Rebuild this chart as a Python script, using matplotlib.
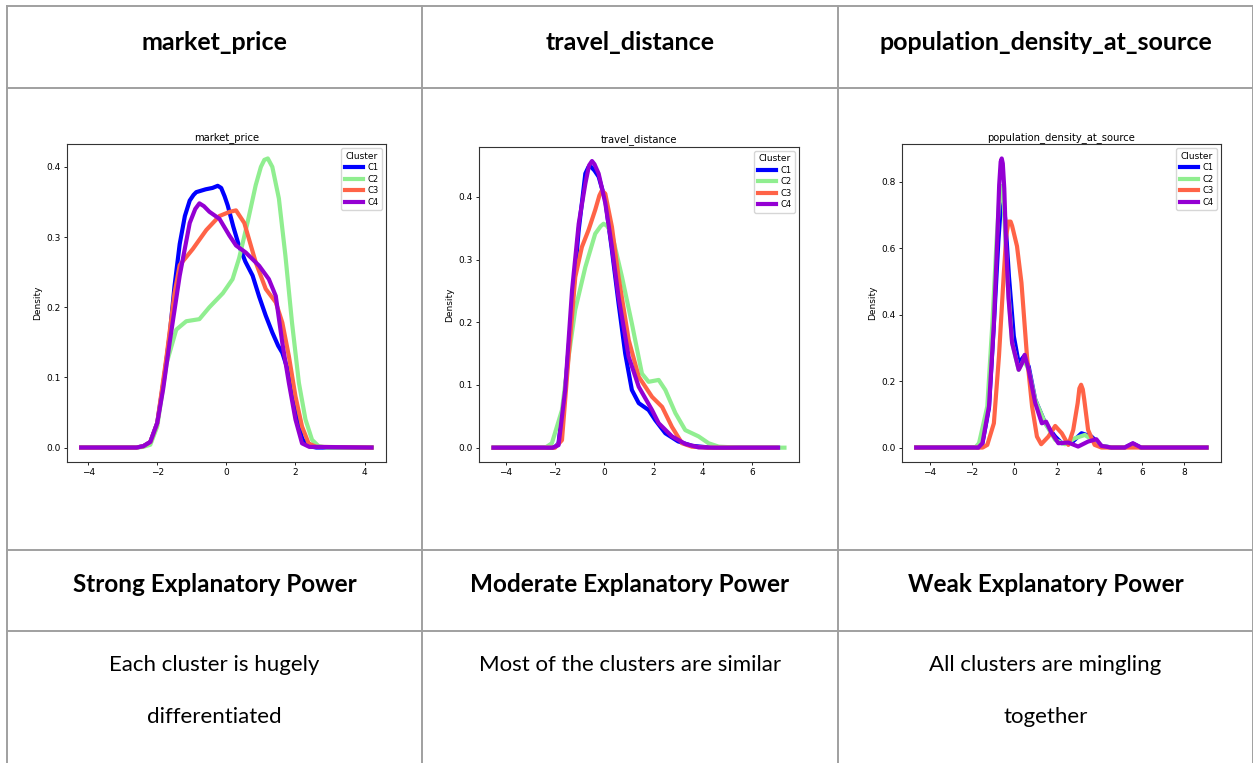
import matplotlib.pyplot as plt
from matplotlib.lines import Line2D

# ---- table text ----
headers = ['market_price', 'travel_distance', 'population_density_at_source']
powers = ['Strong Explanatory Power', 'Moderate Explanatory Power', 'Weak Explanatory Power']
notes = [['Each cluster is hugely', 'differentiated'],
         ['Most of the clusters are similar'],
         ['All clusters are mingling', 'together']]

clusters = ['C1', 'C2', 'C3', 'C4']
line_colors = ['blue', 'lightgreen', 'tomato', 'darkviolet']

# ---- KDE curves (x, density) ----
mp_x = {
    'C1': [-4.2, -2.6, -2.4, -2.2, -2.0, -1.8, -1.64, -1.5, -1.35, -1.2, -1.06, -0.95, -0.87, -0.6, -0.4, -0.25, -0.15, -0.05, 0.04, 0.2, 0.35, 0.55, 0.76, 0.95, 1.14, 1.33, 1.5, 1.62, 1.81, 2.0, 2.2, 2.4, 2.6, 4.2],
    'C2': [-4.2, -2.6, -2.4, -2.2, -2.0, -1.73, -1.45, -1.16, -0.78, -0.49, -0.1, 0.18, 0.37, 0.61, 0.85, 1.0, 1.1, 1.2, 1.33, 1.52, 1.71, 1.9, 2.1, 2.29, 2.48, 2.67, 2.9, 4.2],
    'C3': [-4.2, -2.6, -2.4, -2.2, -2.0, -1.73, -1.5, -1.35, -0.97, -0.58, -0.2, 0.1, 0.28, 0.52, 0.85, 1.14, 1.43, 1.62, 1.81, 2.0, 2.19, 2.38, 2.6, 4.2],
    'C4': [-4.2, -2.6, -2.4, -2.2, -2.0, -1.83, -1.64, -1.35, -1.06, -0.9, -0.78, -0.65, -0.49, -0.2, 0.09, 0.28, 0.56, 0.95, 1.23, 1.43, 1.62, 1.81, 2.0, 2.19, 2.4, 4.2],
}
mp_y = {
    'C1': [0, 0, 0.002, 0.008, 0.035, 0.1, 0.16, 0.23, 0.29, 0.33, 0.352, 0.36, 0.364, 0.368, 0.37, 0.373, 0.37, 0.358, 0.345, 0.315, 0.29, 0.265, 0.245, 0.215, 0.188, 0.164, 0.145, 0.135, 0.106, 0.05, 0.012, 0.002, 0, 0],
    'C2': [0, 0, 0.001, 0.004, 0.03, 0.12, 0.168, 0.18, 0.183, 0.2, 0.22, 0.24, 0.27, 0.32, 0.374, 0.4, 0.41, 0.412, 0.40, 0.355, 0.273, 0.178, 0.092, 0.04, 0.011, 0.002, 0, 0],
    'C3': [0, 0, 0.002, 0.008, 0.035, 0.13, 0.22, 0.26, 0.283, 0.31, 0.33, 0.336, 0.338, 0.32, 0.264, 0.226, 0.207, 0.178, 0.13, 0.073, 0.03, 0.006, 0.001, 0],
    'C4': [0, 0, 0.002, 0.008, 0.035, 0.083, 0.15, 0.245, 0.32, 0.34, 0.348, 0.344, 0.336, 0.326, 0.302, 0.288, 0.278, 0.259, 0.24, 0.216, 0.149, 0.092, 0.04, 0.006, 0.001, 0],
}

td_x = {
    'C1': [-4.5, -2.1, -2.0, -1.86, -1.59, -1.31, -1.04, -0.77, -0.65, -0.57, -0.4, -0.23, 0.04, 0.31, 0.58, 0.85, 1.12, 1.4, 1.8, 2.07, 2.48, 3.0, 3.56, 4.2, 5.0, 7.06],
    'C2': [-4.5, -2.4, -2.13, -1.72, -1.45, -1.18, -0.77, -0.37, -0.15, -0.03, 0.1, 0.31, 0.72, 1.12, 1.53, 1.8, 2.21, 2.48, 2.89, 3.29, 3.83, 4.24, 4.65, 5.5, 7.32],
    'C3': [-4.5, -2.0, -1.72, -1.45, -1.18, -0.91, -0.64, -0.37, -0.2, -0.1, 0.04, 0.31, 0.58, 0.99, 1.4, 1.94, 2.35, 2.75, 3.16, 3.56, 4.2, 7.0],
    'C4': [-4.5, -2.1, -1.86, -1.59, -1.31, -1.04, -0.77, -0.62, -0.5, -0.4, -0.23, 0.04, 0.31, 0.58, 0.99, 1.4, 1.94, 2.21, 2.75, 3.29, 3.83, 4.5, 7.06],
}
td_y = {
    'C1': [0, 0, 0.001, 0.007, 0.092, 0.225, 0.347, 0.437, 0.447, 0.449, 0.442, 0.432, 0.395, 0.315, 0.23, 0.15, 0.092, 0.071, 0.06, 0.044, 0.023, 0.01, 0.003, 0.0005, 0, 0],
    'C2': [0, 0, 0.007, 0.06, 0.145, 0.22, 0.288, 0.341, 0.353, 0.357, 0.354, 0.341, 0.272, 0.198, 0.118, 0.105, 0.108, 0.092, 0.055, 0.028, 0.018, 0.007, 0.0016, 0, 0],
    'C3': [0, 0, 0.012, 0.145, 0.272, 0.32, 0.347, 0.379, 0.402, 0.41, 0.405, 0.352, 0.272, 0.172, 0.113, 0.081, 0.065, 0.033, 0.007, 0.0016, 0, 0],
    'C4': [0, 0, 0.004, 0.092, 0.251, 0.357, 0.421, 0.45, 0.457, 0.452, 0.437, 0.39, 0.32, 0.24, 0.145, 0.097, 0.06, 0.039, 0.018, 0.006, 0.0005, 0, 0],
}

pd_x = {
    'C1': [-4.63, -1.7, -1.51, -1.2, -0.97, -0.76, -0.64, -0.58, -0.5, -0.42, -0.26, -0.03, 0.2, 0.44, 0.67, 0.98, 1.45, 1.92, 2.23, 2.7, 3.16, 3.63, 4.1, 4.6, 5.2, 5.58, 5.95, 9.05],
    'C2': [-4.63, -1.85, -1.67, -1.28, -1.04, -0.84, -0.7, -0.62, -0.5, -0.34, -0.11, 0.2, 0.44, 0.67, 0.98, 1.45, 1.92, 2.38, 2.85, 3.32, 3.78, 4.1, 4.6, 5.2, 5.58, 5.95, 9.05],
    'C3': [-4.63, -1.5, -1.28, -0.97, -0.73, -0.5, -0.38, -0.28, -0.18, -0.11, 0.12, 0.33, 0.59, 0.83, 1.06, 1.26, 1.6, 1.92, 2.23, 2.54, 2.77, 2.98, 3.06, 3.14, 3.22, 3.29, 3.47, 3.78, 4.1, 9.05],
    'C4': [-4.63, -1.7, -1.51, -1.2, -0.97, -0.81, -0.72, -0.65, -0.6, -0.55, -0.48, -0.4, -0.28, -0.11, 0.2, 0.36, 0.48, 0.67, 0.98, 1.29, 1.49, 1.76, 2.07, 2.54, 3.0, 3.47, 3.86, 4.1, 4.56, 5.19, 5.58, 5.97, 9.05],
}
pd_y = {
    'C1': [0, 0, 0.013, 0.12, 0.37, 0.62, 0.73, 0.757, 0.73, 0.676, 0.515, 0.335, 0.254, 0.274, 0.244, 0.144, 0.073, 0.033, 0.013, 0.015, 0.043, 0.033, 0.005, 0, 0, 0.012, 0, 0],
    'C2': [0, 0, 0.013, 0.124, 0.375, 0.626, 0.76, 0.787, 0.727, 0.515, 0.315, 0.234, 0.264, 0.234, 0.144, 0.073, 0.023, 0.01, 0.028, 0.038, 0.018, 0.005, 0, 0, 0.01, 0, 0],
    'C3': [0, 0, 0.008, 0.073, 0.275, 0.526, 0.64, 0.68, 0.68, 0.667, 0.606, 0.496, 0.275, 0.124, 0.033, 0.01, 0.033, 0.065, 0.043, 0.008, 0.053, 0.134, 0.178, 0.189, 0.175, 0.144, 0.053, 0.008, 0, 0],
    'C4': [0, 0, 0.013, 0.124, 0.375, 0.626, 0.79, 0.86, 0.87, 0.855, 0.78, 0.62, 0.45, 0.315, 0.234, 0.254, 0.279, 0.234, 0.134, 0.073, 0.078, 0.043, 0.013, 0.015, 0.003, 0.018, 0.025, 0.005, 0, 0, 0.013, 0, 0],
}

curves = [(mp_x, mp_y), (td_x, td_y), (pd_x, pd_y)]

W, H = 1253, 763
fig = plt.figure(figsize=(W / 100, H / 100), dpi=100)

# ---- table grid in pixel coordinates ----
grid = fig.add_axes([0, 0, 1, 1])
grid.set_xlim(0, W)
grid.set_ylim(H, 0)
grid.axis('off')
line_col = '#a0a0a0'
col_x = [7, 422, 838, 1253]
row_y = [6, 88, 550, 631, 770]
for xv in col_x:
    grid.add_line(Line2D([xv, xv], [row_y[0], H + 5], color=line_col, lw=1.4))
for yv in row_y[:-1]:
    grid.add_line(Line2D([col_x[0], W + 5], [yv, yv], color=line_col, lw=1.4))

tfont = 'Lato'
for i in range(3):
    cx = (col_x[i] + col_x[i + 1]) / 2
    grid.text(cx, 42, headers[i], ha='center', va='center', fontsize=18,
              fontweight='bold', family=tfont)
    grid.text(cx, 585, powers[i], ha='center', va='center', fontsize=17.5,
              fontweight='bold', family=tfont)
    for j, ln in enumerate(notes[i]):
        grid.text(cx, 665 + j * 52, ln, ha='center', va='center', fontsize=16,
                  family=tfont)

# ---- embedded density plots ----
boxes = [(66.7, 144, 386, 462), (479, 146.7, 799, 462), (901.7, 144, 1221, 462)]
for k in range(3):
    x0, y0, x1, y1 = boxes[k]
    ax = fig.add_axes([x0 / W, 1 - y1 / H, (x1 - x0) / W, (y1 - y0) / H])
    cx, cy = curves[k]
    for c, col in zip(clusters, line_colors):
        ax.plot(cx[c], cy[c], color=col, lw=3, label=c, solid_joinstyle='round')
    ax.margins(x=0.05, y=0.05)
    ax.set_title(headers[k], fontsize=7.2, pad=3)
    ax.set_ylabel('Density', fontsize=6.5, labelpad=3)
    ax.tick_params(labelsize=6.5, length=2.5, width=0.6, pad=2)
    for sp in ax.spines.values():
        sp.set_linewidth(0.8)
        sp.set_color('#333333')
    leg = ax.legend(title='Cluster', loc='upper right', fontsize=6,
                    title_fontsize=6.5, handlelength=2.2, borderpad=0.4,
                    labelspacing=0.3, handletextpad=0.5)

fig.savefig('out.png', dpi=100)
